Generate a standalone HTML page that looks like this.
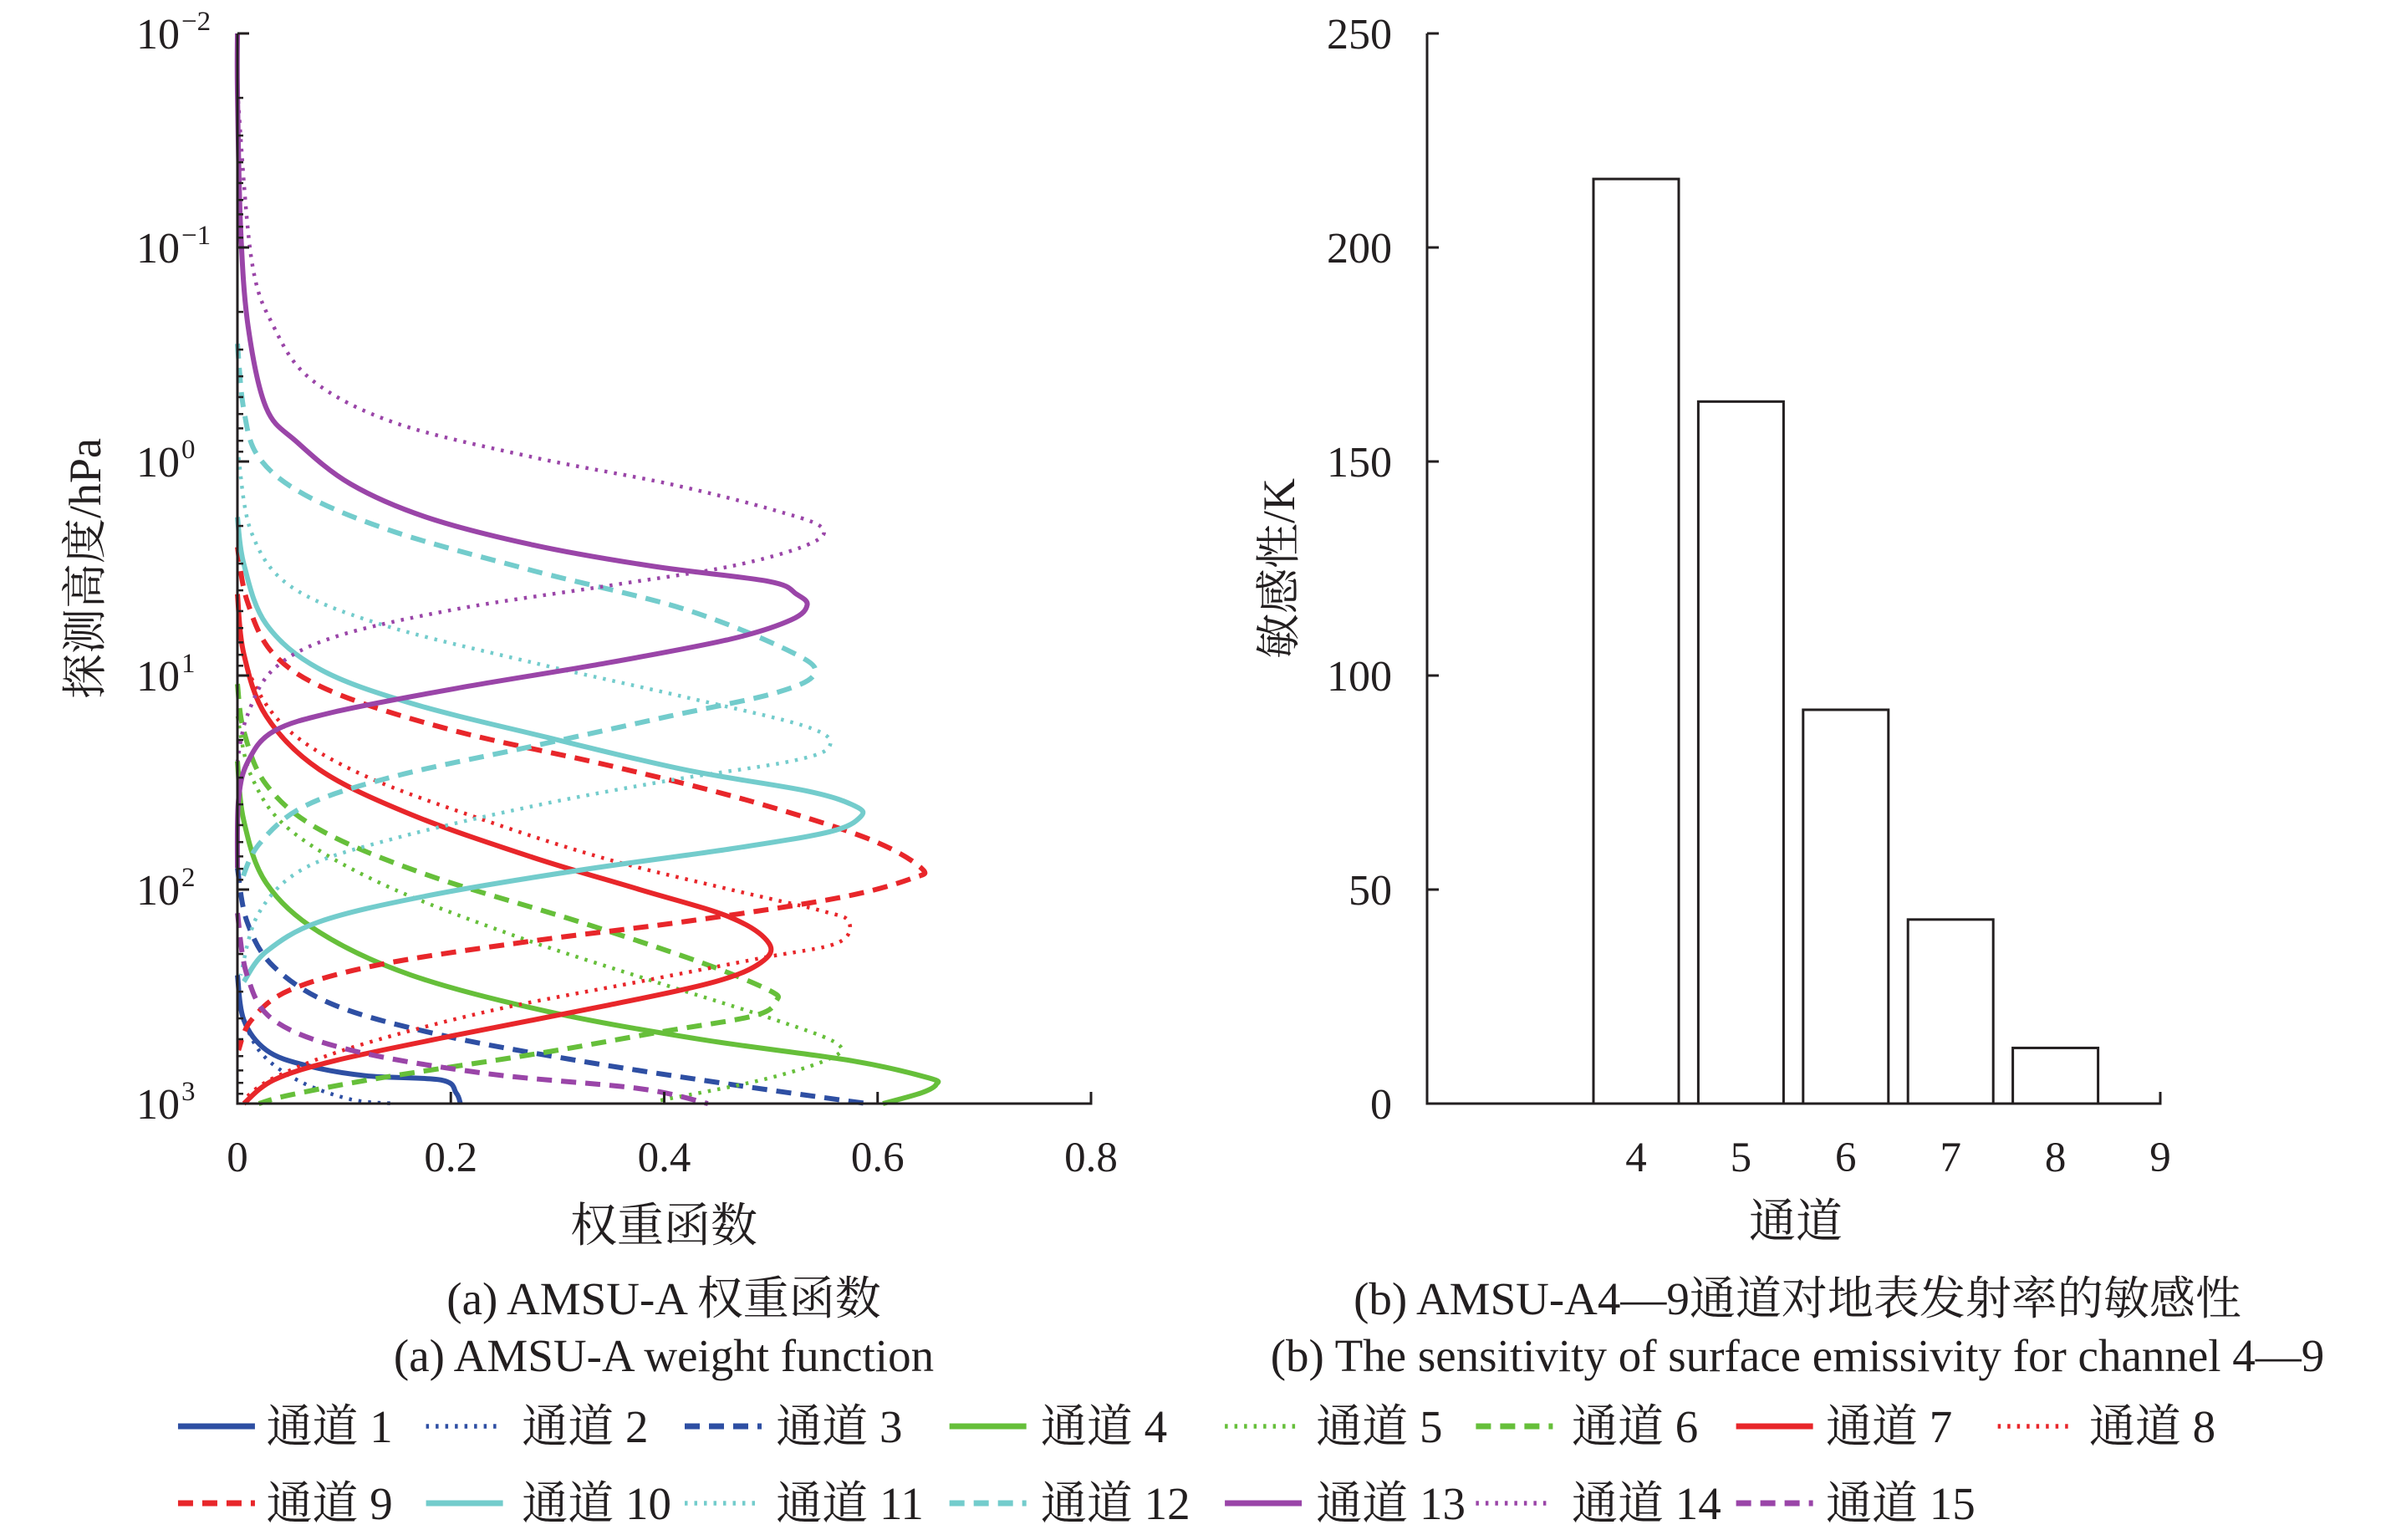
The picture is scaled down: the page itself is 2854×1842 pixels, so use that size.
<!DOCTYPE html>
<html><head><meta charset="utf-8"><style>
html,body{margin:0;padding:0;background:#fff}
svg text{font-family:"Liberation Serif","Noto Serif CJK SC",serif;fill:#231f20}
</style></head><body>
<svg id="s" width="2854" height="1837" viewBox="0 0 2854 1837" xmlns="http://www.w3.org/2000/svg">
<g id="left"></g>
<g id="right"></g>
<g id="legend"></g>
<text x="794" y="1572" font-size="55" text-anchor="middle">(a) AMSU-A 权重函数</text>
<text x="794" y="1640" font-size="55" text-anchor="middle">(a) AMSU-A weight function</text>
<text x="2150" y="1572" font-size="55" text-anchor="middle">(b) AMSU-A4—9通道对地表发射率的敏感性</text>
<text x="2150" y="1640" font-size="55" text-anchor="middle">(b) The sensitivity of surface emissivity for channel 4—9</text>
</svg>
<script>
// ---- data: weight function curves, points [weight, log10(pressure hPa)] ----
const ch1=[[0,2.40],[.006,2.61],[.027,2.75],[.063,2.82],[.12,2.87],[.191,2.89],[.205,2.95],[.209,3.0]];
const ch2=[[.001,2.54],[.02,2.75],[.056,2.89],[.106,2.98],[.148,3.0]];
const ch3=[[0,1.90],[.009,2.15],[.034,2.36],[.091,2.54],[.191,2.68],[.32,2.80],[.462,2.91],[.59,3.0]];
const ch4=[[0,1.40],[.006,1.68],[.027,1.97],[.077,2.20],[.163,2.40],[.291,2.57],[.434,2.70],[.576,2.80],[.648,2.88],[.655,2.91],[.641,2.95],[.605,3.0]];
const ch5=[[0,1.19],[.013,1.47],[.049,1.72],[.134,1.97],[.262,2.22],[.391,2.43],[.505,2.61],[.562,2.72],[.555,2.79],[.491,2.89],[.391,2.99]];
const ch6=[[0,1.04],[.006,1.26],[.027,1.51],[.077,1.72],[.177,1.93],[.32,2.15],[.434,2.34],[.498,2.47],[.505,2.52],[.484,2.59],[.391,2.67],[.277,2.77],[.134,2.88],[.049,2.96],[.02,3.0]];
const ch7=[[0,.62],[.006,.90],[.027,1.19],[.077,1.44],[.163,1.65],[.277,1.85],[.377,2.00],[.462,2.13],[.498,2.25],[.491,2.34],[.448,2.43],[.348,2.54],[.205,2.68],[.091,2.80],[.034,2.89],[.006,3.0]];
const ch8=[[.001,.75],[.013,1.01],[.049,1.26],[.12,1.47],[.234,1.68],[.348,1.86],[.462,2.00],[.548,2.10],[.573,2.15],[.562,2.25],[.491,2.32],[.377,2.43],[.234,2.57],[.106,2.74],[.034,2.88],[.006,2.98]];
const ch9=[[0,.40],[.009,.65],[.034,.90],[.091,1.08],[.205,1.26],[.348,1.42],[.476,1.58],[.59,1.76],[.641,1.90],[.631,1.95],[.562,2.04],[.419,2.15],[.277,2.24],[.134,2.35],[.049,2.47],[.013,2.61],[.001,2.75]];
const ch10=[[0,.26],[.006,.48],[.027,.76],[.077,.97],[.163,1.13],[.291,1.29],[.419,1.44],[.534,1.54],[.579,1.61],[.584,1.66],[.555,1.73],[.462,1.81],[.32,1.91],[.177,2.03],[.077,2.15],[.027,2.29],[.006,2.43]];
const ch11=[[.001,-.02],[.013,.33],[.049,.58],[.134,.76],[.277,.94],[.419,1.10],[.534,1.24],[.555,1.33],[.519,1.40],[.405,1.49],[.277,1.61],[.148,1.76],[.063,1.90],[.02,2.11],[.003,2.40]];
const ch12=[[0,-.55],[.006,-.24],[.02,-.02],[.063,.155],[.148,.33],[.277,.51],[.419,.69],[.519,.89],[.541,.99],[.505,1.08],[.405,1.19],[.277,1.33],[.148,1.47],[.063,1.61],[.02,1.79],[.003,1.97]];
const ch13=[[0,-2],[0,-1.73],[.003,-1.09],[.01,-.63],[.027,-.25],[.056,-.09],[.106,.105],[.177,.26],[.277,.39],[.39,.49],[.498,.56],[.524,.62],[.534,.67],[.519,.74],[.462,.83],[.348,.94],[.205,1.06],[.091,1.17],[.034,1.26],[.01,1.40],[.001,1.58],[0,1.9]];
const ch14=[[0,-1.73],[.013,-.95],[.034,-.63],[.07,-.38],[.148,-.18],[.277,-.02],[.405,.105],[.505,.23],[.548,.31],[.534,.39],[.462,.49],[.348,.58],[.205,.69],[.091,.82],[.034,.97],[.009,1.19],[0,1.40]];
const ch15=[[0,2.11],[.009,2.40],[.034,2.61],[.106,2.75],[.234,2.86],[.377,2.93],[.441,3.0]];
const xTicks=[0,0.2,0.4,0.6,0.8];
const yExps=[-2,-1,0,1,2,3];
// ---- data: sensitivity bars ----
const barCats=[4,5,6,7,8];
const barVals=[216,164,92,43,13];
const barTicks=[0,50,100,150,200,250];
const barXTicks=[4,5,6,7,8,9];

const NS="http://www.w3.org/2000/svg";
function mk(p,t,a){const e=document.createElementNS(NS,t);for(const k in a)e.setAttribute(k,a[k]);p.appendChild(e);return e;}
const C={blue:"#2e4fa3",green:"#66bf3a",red:"#e8262a",cyan:"#73cccc",purple:"#9a45a8"};
const S={solid:{w:6,d:null},dot:{w:4.5,d:"3.5 8"},dash:{w:6,d:"18 11"}};
const series=[[ch1,"blue","solid"],[ch2,"blue","dot"],[ch3,"blue","dash"],[ch4,"green","solid"],[ch5,"green","dot"],[ch6,"green","dash"],[ch7,"red","solid"],[ch8,"red","dot"],[ch9,"red","dash"],[ch10,"cyan","solid"],[ch11,"cyan","dot"],[ch12,"cyan","dash"],[ch13,"purple","solid"],[ch14,"purple","dot"],[ch15,"purple","dash"]];

const L=document.getElementById("left");
const X0=284,X1=1305,Y0=40,Y1=1320;
const xs=w=>X0+(w/0.8)*(X1-X0);
const ys=lp=>Y0+(lp+2)/5*(Y1-Y0);
function smooth(P){
  let d="M"+P[0][0].toFixed(1)+" "+P[0][1].toFixed(1);
  for(let i=0;i<P.length-1;i++){
    const p0=P[Math.max(i-1,0)],p1=P[i],p2=P[i+1],p3=P[Math.min(i+2,P.length-1)];
    const c1=[p1[0]+(p2[0]-p0[0])/6,p1[1]+(p2[1]-p0[1])/6];
    const c2=[p2[0]-(p3[0]-p1[0])/6,p2[1]-(p3[1]-p1[1])/6];
    d+="C"+c1[0].toFixed(1)+" "+c1[1].toFixed(1)+" "+c2[0].toFixed(1)+" "+c2[1].toFixed(1)+" "+p2[0].toFixed(1)+" "+p2[1].toFixed(1);
  }
  return d;
}
series.forEach((s,i)=>{
  const pts=s[0].map(p=>[xs(p[0]),ys(p[1])]);
  const st=S[s[2]];
  const e=mk(L,"path",{d:smooth(pts),fill:"none",stroke:C[s[1]],"stroke-width":st.w,"stroke-linejoin":"round"});
  if(st.d)e.setAttribute("stroke-dasharray",st.d);
  
  
});
let ax=mk(L,"path",{d:`M${X0} ${Y0}V${Y1}H${X1}V${Y1-14}`,fill:"none",stroke:"#231f20","stroke-width":3});


xTicks.forEach(t=>{
  mk(L,"line",{x1:xs(t),x2:xs(t),y1:Y1,y2:Y1-14,stroke:"#231f20","stroke-width":3});
  const tx=mk(L,"text",{x:xs(t),y:1401,"font-size":51,"text-anchor":"middle"});tx.textContent=String(t);
  
  
});
yExps.forEach(e=>{
  mk(L,"line",{x1:X0,x2:X0+14,y1:ys(e),y2:ys(e),stroke:"#231f20","stroke-width":3});
  if(e<3)for(let m=2;m<10;m++){const yy=ys(e+Math.log10(m));mk(L,"line",{x1:X0,x2:X0+7,y1:yy,y2:yy,stroke:"#231f20","stroke-width":2.5});}
  const tx=mk(L,"text",{x:215,y:ys(e)+18,"font-size":52,"text-anchor":"end"});
  tx.textContent="10";
  
  
  const sp=mk(L,"text",{x:217,y:ys(e)-4,"font-size":33});sp.textContent=e<0?"\u2212"+(-e):String(e);
  
  
});
let t1=mk(L,"text",{x:794,y:1485,"font-size":56,"text-anchor":"middle"});t1.textContent="权重函数";


let t2=mk(L,"text",{x:0,y:0,"font-size":54,"text-anchor":"middle",transform:"translate(120 680) rotate(-90)"});t2.textContent="探测高度/hPa";



const R=document.getElementById("right");
const RX0=1707,RY0=40,RY1=1320;
const bx=c=>1957+(c-4)*125.4;
const by=v=>RY1-v/250*(RY1-RY0);
barCats.forEach((c,i)=>{
  const r=mk(R,"rect",{x:bx(c)-51,y:by(barVals[i]),width:102,height:RY1-by(barVals[i]),fill:"#fff",stroke:"#231f20","stroke-width":3});
  
  
});
let rax=mk(R,"path",{d:`M${RX0} ${RY0}V${RY1}H${bx(9)}V${RY1-14}`,fill:"none",stroke:"#231f20","stroke-width":3});


barTicks.forEach(t=>{
  mk(R,"line",{x1:RX0,x2:RX0+14,y1:by(t),y2:by(t),stroke:"#231f20","stroke-width":3});
  const tx=mk(R,"text",{x:1665,y:by(t)+18,"font-size":52,"text-anchor":"end"});tx.textContent=String(t);
  
  
});
barXTicks.forEach(t=>{
  const tx=mk(R,"text",{x:bx(t),y:1401,"font-size":51,"text-anchor":"middle"});tx.textContent=String(t);
  
  
});
let t3=mk(R,"text",{x:2148,y:1480,"font-size":56,"text-anchor":"middle"});t3.textContent="通道";


let t4=mk(R,"text",{x:0,y:0,"font-size":54,"text-anchor":"middle",transform:"translate(1548 680) rotate(-90)"});t4.textContent="敏感性/K";



const G=document.getElementById("legend");
const lineX=[117,280,450,624,805,970,1141,1313];
const textX=[175,343,510,684,865,1033,1200,1373];
series.forEach((s,i)=>{
  const row=i<8?0:1,col=i<8?i:i-8;
  const y=row?1798:1706;
  const x=lineX[col]*1.82,tx=textX[col]*1.82;
  const st=S[s[2]];
  const l=mk(G,"line",{x1:x,x2:x+92,y1:y,y2:y,stroke:C[s[1]],"stroke-width":st.w+1});
  if(st.d)l.setAttribute("stroke-dasharray",st.d);
  
  
  const t=mk(G,"text",{x:tx,y:y+19,"font-size":55});t.textContent="通道 "+(i+1);
  
  
});
</script>
</body></html>
